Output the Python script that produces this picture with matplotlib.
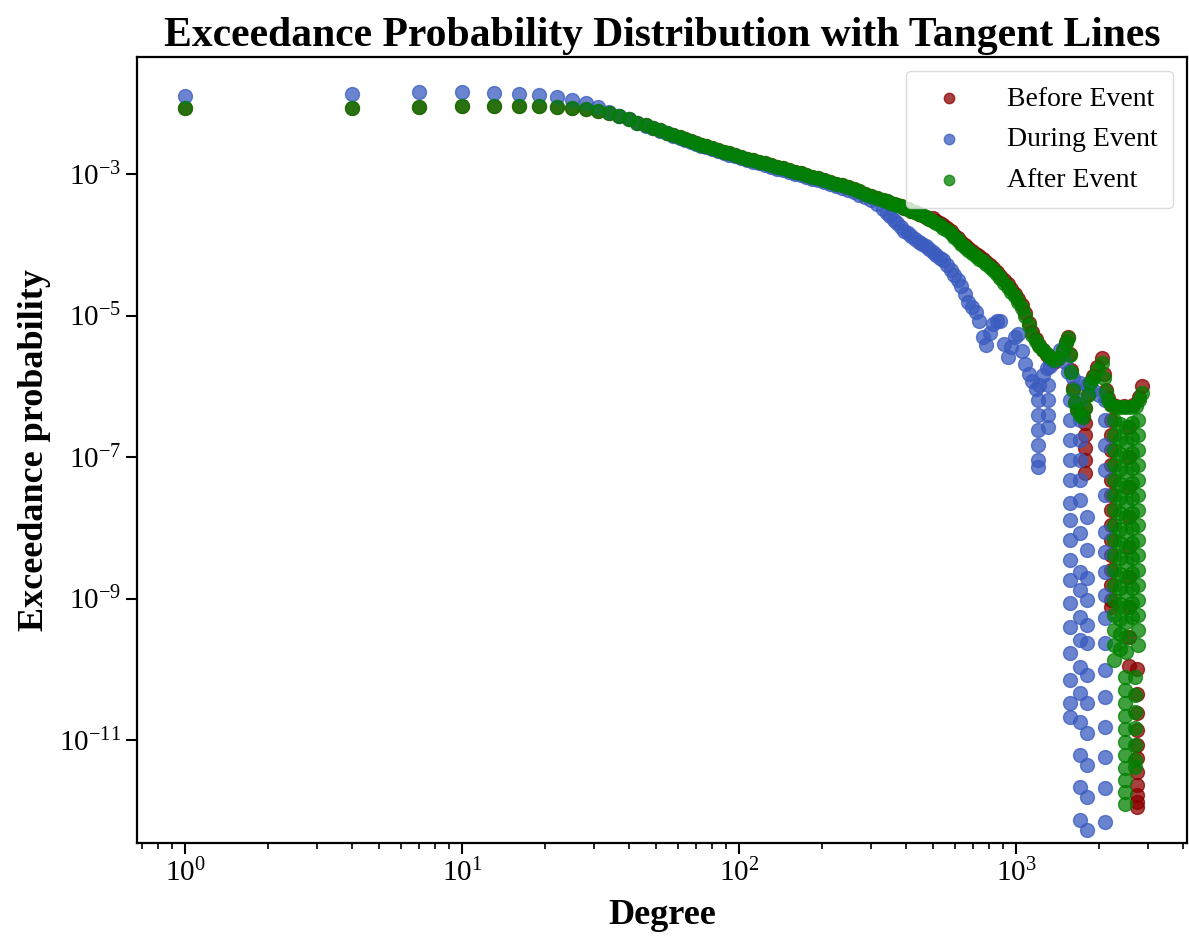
import matplotlib
matplotlib.use('Agg')
import matplotlib.pyplot as plt
from matplotlib.ticker import NullLocator

plt.rcParams['font.family'] = ['Liberation Serif', 'DejaVu Serif']
plt.rcParams['mathtext.fontset'] = 'stix'

# head of the distribution: degrees 1, 4, 7, ... 43
deg_head = [1, 4, 7, 10, 13, 16, 19, 22, 25, 28, 31, 34, 37, 40, 43]
before_head = [8.6e-3, 8.7e-3, 9.0e-3, 9.1e-3, 9.1e-3, 9.1e-3, 9.1e-3, 8.9e-3,
               8.5e-3, 8.2e-3, 7.8e-3, 7.2e-3, 6.6e-3, 5.9e-3, 5.3e-3]
during_head = [1.27e-2, 1.35e-2, 1.42e-2, 1.45e-2, 1.41e-2, 1.35e-2, 1.29e-2, 1.21e-2,
               1.11e-2, 9.98e-3, 8.77e-3, 7.6e-3, 6.6e-3, 5.9e-3, 5.25e-3]
after_head = [8.6e-3, 8.7e-3, 9.0e-3, 9.1e-3, 9.1e-3, 9.1e-3, 9.1e-3, 8.9e-3,
              8.5e-3, 8.2e-3, 7.8e-3, 7.2e-3, 6.6e-3, 5.9e-3, 5.3e-3]

# main body
deg_body = [46, 49, 52, 55, 58, 61, 64, 67, 70, 73, 76, 80, 84, 88, 92, 97, 102, 107,
            112, 118, 124, 130, 137, 144, 151, 159, 167, 175, 184, 193, 203, 213, 224,
            235, 247, 259, 272, 286, 300, 315, 331, 341, 351, 362, 373, 384, 395, 407,
            419, 432, 445, 458, 472, 486, 501, 516, 531, 547, 564, 581, 598, 616, 634,
            653, 673, 693, 714, 735, 757, 780, 804, 828, 853, 878, 905, 932, 960, 988,
            1018, 1049, 1080, 1112, 1146, 1180]
after_body = [4.86e-3, 4.48e-3, 4.14e-3, 3.82e-3, 3.55e-3, 3.30e-3, 3.09e-3, 2.90e-3,
              2.73e-3, 2.59e-3, 2.45e-3, 2.31e-3, 2.17e-3, 2.06e-3, 1.95e-3, 1.84e-3,
              1.74e-3, 1.65e-3, 1.57e-3, 1.48e-3, 1.41e-3, 1.34e-3, 1.26e-3, 1.20e-3,
              1.14e-3, 1.08e-3, 1.02e-3, 9.68e-4, 9.16e-4, 8.69e-4, 8.20e-4, 7.78e-4,
              7.31e-4, 6.89e-4, 6.46e-4, 6.08e-4, 5.69e-4, 5.30e-4, 4.94e-4, 4.60e-4,
              4.30e-4, 4.12e-4, 3.95e-4, 3.78e-4, 3.63e-4, 3.48e-4, 3.32e-4, 3.16e-4,
              3.02e-4, 2.88e-4, 2.74e-4, 2.60e-4, 2.47e-4, 2.34e-4, 2.19e-4, 2.04e-4,
              1.91e-4, 1.75e-4, 1.60e-4, 1.46e-4, 1.29e-4, 1.15e-4, 1.02e-4, 9.25e-5,
              8.32e-5, 7.59e-5, 6.92e-5, 6.34e-5, 5.81e-5, 5.30e-5, 4.81e-5, 4.36e-5,
              3.82e-5, 3.36e-5, 2.92e-5, 2.54e-5, 2.18e-5, 1.88e-5, 1.57e-5, 1.29e-5,
              9.86e-6, 7.28e-6, 5.37e-6, 4.31e-6]
before_body = [4.86e-3, 4.48e-3, 4.14e-3, 3.82e-3, 3.55e-3, 3.30e-3, 3.09e-3, 2.90e-3,
               2.73e-3, 2.59e-3, 2.45e-3, 2.31e-3, 2.17e-3, 2.06e-3, 1.95e-3, 1.84e-3,
               1.74e-3, 1.65e-3, 1.57e-3, 1.48e-3, 1.41e-3, 1.34e-3, 1.26e-3, 1.20e-3,
               1.14e-3, 1.08e-3, 1.02e-3, 9.68e-4, 9.16e-4, 8.69e-4, 8.20e-4, 7.78e-4,
               7.31e-4, 6.89e-4, 6.46e-4, 6.08e-4, 5.69e-4, 5.30e-4, 4.94e-4, 4.60e-4,
               4.30e-4, 4.12e-4, 3.95e-4, 3.78e-4, 3.63e-4, 3.48e-4, 3.32e-4, 3.16e-4,
               3.02e-4, 2.88e-4, 2.74e-4, 2.60e-4, 2.47e-4, 2.34e-4, 2.37e-4, 2.20e-4,
               2.06e-4, 1.89e-4, 1.73e-4, 1.58e-4, 1.39e-4, 1.24e-4, 1.10e-4, 1.00e-4,
               9.0e-5, 8.2e-5, 7.5e-5, 6.85e-5, 6.3e-5, 5.7e-5, 5.2e-5, 4.7e-5,
               4.15e-5, 3.65e-5, 3.17e-5, 2.75e-5, 2.36e-5, 2.03e-5, 1.70e-5, 1.40e-5,
               1.07e-5, 7.9e-6, 5.8e-6, 4.6e-6]
during_body = [4.8e-3, 4.4e-3, 4.07e-3, 3.75e-3, 3.48e-3, 3.23e-3, 3.02e-3, 2.83e-3,
               2.66e-3, 2.52e-3, 2.38e-3, 2.24e-3, 2.10e-3, 1.99e-3, 1.88e-3, 1.77e-3,
               1.67e-3, 1.58e-3, 1.50e-3, 1.41e-3, 1.34e-3, 1.27e-3, 1.19e-3, 1.13e-3,
               1.07e-3, 1.01e-3, 9.55e-4, 9.05e-4, 8.55e-4, 8.1e-4, 7.62e-4, 7.2e-4,
               6.75e-4, 6.33e-4, 5.9e-4, 5.52e-4, 5.12e-4, 4.72e-4, 4.27e-4, 3.72e-4,
               3.16e-4, 2.82e-4, 2.51e-4, 2.24e-4, 2.0e-4, 1.76e-4, 1.58e-4, 1.45e-4,
               1.32e-4, 1.20e-4, 1.11e-4, 1.04e-4, 9.55e-5, 8.7e-5, 7.94e-5, 7.24e-5,
               6.6e-5, 6.03e-5, 5.25e-5, 4.47e-5, 3.72e-5, 3.16e-5, 2.63e-5, 2.0e-5,
               1.55e-5, 1.32e-5, 1.12e-5, 8.3e-6, 5.0e-6, 3.8e-6, 5.6e-6, 7.6e-6,
               8.3e-6, 8.5e-6, 4.0e-6, 2.63e-6, 3.55e-6, 5.0e-6, 5.5e-6, 3.16e-6,
               2.09e-6, 1.51e-6, 1.17e-6, 9.3e-7]

# upper envelope of the tail
deg_tail_after = [1215, 1252, 1289, 1328, 1368, 1420, 1480, 1510, 1541, 1560, 1580, 1600,
                  1630, 1657, 1700, 1745, 1780, 1820, 1850, 1900, 1960, 2038, 2070, 2110,
                  2150, 2200, 2300, 2400, 2500, 2600, 2700, 2780, 2845]
after_tail = [3.65e-6, 3.24e-6, 2.87e-6, 2.56e-6, 2.32e-6, 2.51e-6, 3.25e-6, 4.08e-6,
              4.81e-6, 2.77e-6, 1.59e-6, 8.85e-7, 5.8e-7, 4.6e-7, 3.93e-7, 3.67e-7,
              4.93e-7, 7.52e-7, 1.11e-6, 1.31e-6, 1.7e-6, 2.13e-6, 1.31e-6, 8.3e-7,
              6.4e-7, 5.43e-7, 5.1e-7, 5.1e-7, 5.1e-7, 5.1e-7, 5.3e-7, 6.5e-7, 8.0e-7]
deg_tail_before = [1215, 1252, 1289, 1328, 1368, 1420, 1480, 1510, 1541, 1560, 1580, 1600,
                   1630, 1657, 1700, 1745, 1780, 1820, 1850, 1900, 1960, 2038, 2070, 2110,
                   2150, 2200, 2300, 2450, 2650, 2780, 2845]
before_tail = [3.8e-6, 3.3e-6, 2.8e-6, 2.45e-6, 2.2e-6, 2.4e-6, 3.3e-6, 4.2e-6,
               5.0e-6, 2.9e-6, 1.7e-6, 9.5e-7, 6.0e-7, 4.8e-7, 4.0e-7, 3.7e-7,
               5.0e-7, 7.8e-7, 1.15e-6, 1.4e-6, 1.85e-6, 2.5e-6, 1.5e-6, 9.0e-7,
               6.8e-7, 5.6e-7, 5.3e-7, 5.3e-7, 5.4e-7, 7.0e-7, 1.0e-6]
deg_tail_during = [1215, 1252, 1289, 1328, 1380, 1442, 1500, 1540, 1600, 1700, 1800, 1900,
                   2000, 2094]
during_tail = [1.04e-6, 1.44e-6, 1.81e-6, 1.93e-6, 2.35e-6, 3.25e-6, 2.2e-6, 1.59e-6,
               1.31e-6, 1.11e-6, 1.04e-6, 8.85e-7, 7.5e-7, 6.4e-7]

# vertical dips of the tail: (degree, probabilities)
during_dips = [
    (1200, [6.4e-7, 3.93e-7, 2.41e-7, 1.48e-7, 9.1e-8, 7.2e-8]),
    (1306, [1.04e-6, 6.4e-7, 3.93e-7, 2.65e-7]),
    (1567, [6.4e-7, 3.33e-7, 1.74e-7, 9.1e-8, 4.73e-8, 2.24e-8, 1.29e-8, 6.7e-9, 3.5e-9,
            1.82e-9, 8.6e-10, 3.95e-10, 1.7e-10, 7.05e-11, 3.33e-11, 2.11e-11]),
    (1702, [6.4e-7, 3.33e-7, 1.74e-7, 9.1e-8, 4.73e-8, 2.47e-8, 8.4e-9, 2.37e-9, 1.32e-9,
            5.5e-10, 2.59e-10, 1.08e-10, 4.6e-11, 1.8e-11, 6.1e-12, 2.17e-12, 7.4e-13]),
    (1803, [1.42e-8, 4.85e-9, 1.95e-9, 9.5e-10, 4.2e-10, 2.35e-10, 8.3e-11, 3.33e-11,
            1.26e-11, 4.4e-12, 1.56e-12, 5.4e-13]),
    (2094, [3.33e-7, 1.48e-7, 6.55e-8, 2.9e-8, 8.7e-9, 4.54e-9, 2.37e-9, 1.12e-9, 5.3e-10,
            2.35e-10, 9.75e-11, 4.05e-11, 1.53e-11, 5.75e-12, 2.1e-12, 6.9e-13]),
]
before_dips = [
    (1770, [3.03e-7, 2.05e-7, 1.34e-7, 9.1e-8, 5.94e-8]),
    (2210, [3.33e-7, 2.05e-7, 1.26e-7, 7.7e-8, 4.73e-8, 2.9e-8, 1.78e-8, 1.09e-8, 6.7e-9,
            4.12e-9, 2.53e-9, 1.55e-9, 9.5e-10, 7.6e-10]),
    (2560, [2.65e-7, 1.0e-7, 3.77e-8, 1.42e-8, 5.35e-9, 2.01e-9, 7.59e-10, 2.86e-10,
            1.1e-10]),
    (2740, [1.0e-10, 4.5e-11, 2.41e-11, 1.38e-11, 8.5e-12, 5.57e-12, 3.53e-12, 2.31e-12,
            1.67e-12, 1.33e-12, 1.13e-12]),
]
after_dips = [
    (2250, [3.33e-7, 2.05e-7, 1.26e-7, 7.7e-8, 4.73e-8, 2.9e-8, 1.78e-8, 1.09e-8, 6.7e-9,
            4.12e-9, 2.53e-9, 1.55e-9, 9.5e-10, 5.85e-10, 3.59e-10, 2.2e-10, 1.35e-10]),
    (2370, [2.9e-7, 1.8e-7, 1.1e-7, 6.8e-8, 4.2e-8, 2.6e-8, 1.6e-8, 9.7e-9, 6.0e-9, 3.7e-9,
            2.25e-9, 1.4e-9, 8.5e-10, 5.2e-10, 3.2e-10, 1.95e-10]),
    (2500, [2.65e-7, 1.63e-7, 1.0e-7, 6.14e-8, 3.77e-8, 2.31e-8, 1.42e-8, 8.7e-9, 5.35e-9,
            3.28e-9, 2.01e-9, 1.24e-9, 7.59e-10, 4.66e-10, 2.86e-10, 1.75e-10]),
    (2630, [3.0e-7, 1.85e-7, 1.13e-7, 7.0e-8, 4.3e-8, 2.65e-8, 1.62e-8, 1.0e-8, 6.1e-9,
            3.8e-9, 2.3e-9, 1.42e-9, 8.7e-10, 5.4e-10]),
    (2760, [3.33e-7, 2.05e-7, 1.26e-7, 7.7e-8, 4.73e-8, 2.9e-8, 1.78e-8, 1.09e-8, 6.7e-9,
            4.12e-9, 2.53e-9, 1.55e-9, 9.5e-10, 5.85e-10, 3.59e-10, 2.2e-10]),
    (2475, [7.76e-11, 5.09e-11, 3.33e-11, 2.18e-11, 1.43e-11, 9.38e-12, 6.14e-12, 4.02e-12,
            2.72e-12, 1.84e-12, 1.24e-12]),
    (2690, [7.76e-11, 4.32e-11, 2.49e-11, 1.48e-11, 8.5e-12, 5.22e-12, 4.15e-12]),
]


def collect(deg_parts, p_parts, dips):
    xs, ys = [], []
    for d, p in zip(deg_parts, p_parts):
        xs += list(d)
        ys += list(p)
    for d, ps in dips:
        xs += [d] * len(ps)
        ys += ps
    return xs, ys


x_before, y_before = collect([deg_head, deg_body, deg_tail_before],
                             [before_head, before_body, before_tail], before_dips)
x_during, y_during = collect([deg_head, deg_body, deg_tail_during],
                             [during_head, during_body, during_tail], during_dips)
x_after, y_after = collect([deg_head, deg_body, deg_tail_after],
                           [after_head, after_body, after_tail], after_dips)

fig = plt.figure(figsize=(11.89, 9.43), dpi=100)
ax = fig.add_axes([0.1152, 0.1060, 0.8831, 0.8335])

ax.scatter(x_before, y_before, s=100, color='darkred', alpha=0.75, label='Before Event')
ax.scatter(x_during, y_during, s=100, color='#3a5bbf', alpha=0.75, label='During Event')
ax.scatter(x_after, y_after, s=100, color='green', alpha=0.75, label='After Event')

ax.set_xscale('log')
ax.set_yscale('log')
ax.set_xlim(0.671, 4140)
ax.set_ylim(3.5e-13, 4.5e-2)
ax.set_yticks([1e-11, 1e-9, 1e-7, 1e-5, 1e-3])
ax.yaxis.set_minor_locator(NullLocator())

ax.tick_params(which='major', labelsize=21, width=1.5, length=8)
ax.tick_params(which='minor', width=1.2, length=4)
for sp in ax.spines.values():
    sp.set_linewidth(1.6)

ax.set_title('Exceedance Probability Distribution with Tangent Lines',
             fontsize=30, fontweight='bold', pad=8)
ax.set_xlabel('Degree', fontsize=26, fontweight='bold', labelpad=8)
ax.set_ylabel('Exceedance probability', fontsize=26, fontweight='bold', labelpad=6)

ax.legend(loc='upper right', fontsize=20, markerscale=0.75, handletextpad=1.1,
          borderpad=0.55, labelspacing=0.55, edgecolor='lightgray')

fig.savefig('out.png', dpi=100)
